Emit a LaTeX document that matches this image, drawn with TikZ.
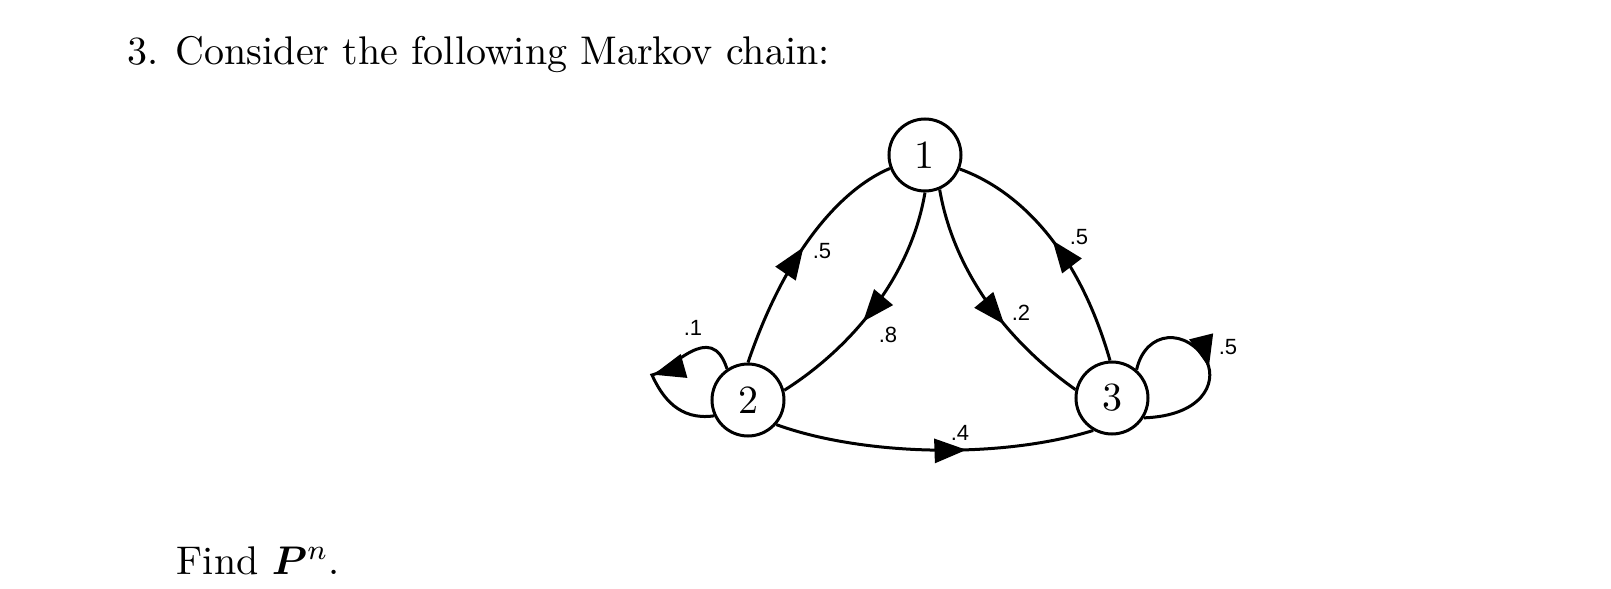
\documentclass[tikz,border=0pt]{standalone}
\usepackage{bm}
\usepackage{fontspec}
\usetikzlibrary{arrows.meta,decorations.markings}
\newfontfamily\lblfont{Liberation Sans}
\begin{document}
\begin{tikzpicture}[x=0.25pt,y=-0.25pt,
  txt/.style={anchor=base west,inner sep=0pt,font=\fontsize{10}{12}\selectfont},
  state/.style={circle,draw,line width=0.75pt,minimum size=18pt,inner sep=0pt,font=\fontsize{10}{12}\selectfont},
  edge/.style={line width=0.75pt},
  lbl/.style={inner sep=0pt,font=\lblfont\fontsize{5.5}{6}\selectfont},
  midarrow/.style={postaction={decorate},decoration={markings,
     mark=at position #1 with {\arrow{Triangle[length=8pt,width=6pt]}}}}]
\useasboundingbox (0,0) rectangle (1611,589);

\node[txt] (num) at (127,65) {3.};
\node[txt] (title) at (175,65) {Consider the following Markov chain:};
\node[txt] (find) at (176,574) {Find $\bm{P}^{n}$.};

\node[state] (n1) at (925,155) {1};
\node[state] (n2) at (748,400) {2};
\node[state] (n3) at (1112,398) {3};

\coordinate (l2) at (652,375);
\coordinate (l3) at (1207,362);

% 2 -> 1 outer
\draw[edge,midarrow=0.52] (n2.90) .. controls +(42,-123) and +(-41,17) .. (n1.201);
% 1 -> 2 inner
\draw[edge,midarrow=0.58] (n1.270) .. controls +(-15,89) and +(62,-39) .. (n2.15);
% 1 -> 3 inner
\draw[edge,midarrow=0.61] (n1.293) .. controls +(16,92) and +(-57,-40) .. (n3.167);
% 3 -> 1 outer
\draw[edge,midarrow=0.53] (n3.93) .. controls +(-35,-122) and +(50,18) .. (n1.338);
% 2 -> 3 bottom
\draw[edge,midarrow=0.6] (n2.319) .. controls +(85,31) and +(-94,29) .. (n3.240);
% loop 2
\draw[edge,midarrow=0.53] (n2.124) .. controls +(-16,-50) and +(20,-4) .. (l2)
   .. controls +(10,22) and +(-35,5) .. (n2.205);
% loop 3
\draw[edge,midarrow=0.52] (n3.49) .. controls +(9,-40) and +(-20,-35) .. (l3)
   .. controls +(10,22) and +(57.5,-2) .. (n3.328);

\node[lbl] (e21) at (822,251) {.5};
\node[lbl] (e12) at (888,335) {.8};
\node[lbl] (e13) at (1021,313) {.2};
\node[lbl] (e31) at (1079,237) {.5};
\node[lbl] (e23) at (960,433) {.4};
\node[lbl] (e22) at (693,328) {.1};
\node[lbl] (e33) at (1228,347) {.5};
\end{tikzpicture}
\end{document}
